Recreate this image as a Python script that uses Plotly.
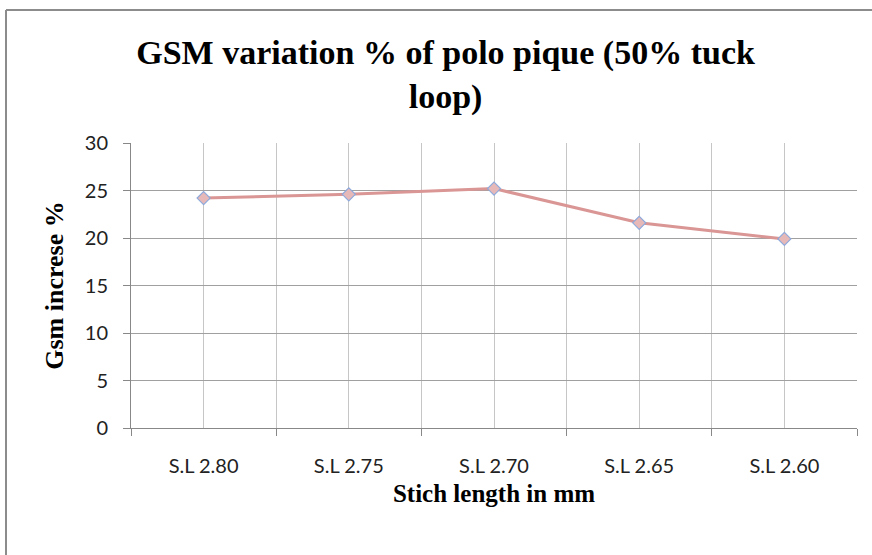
import plotly.graph_objects as go

categories = ["S.L 2.80", "S.L 2.75", "S.L 2.70", "S.L 2.65", "S.L 2.60"]
gsm_increase = [24.2, 24.6, 25.2, 21.6, 19.9]
y_ticks = [0, 5, 10, 15, 20, 25, 30]

x_idx = list(range(len(categories)))

fig = go.Figure()
fig.add_trace(go.Scatter(
    x=x_idx, y=gsm_increase, mode="lines+markers",
    line=dict(color="#D99694", width=3),
    marker=dict(symbol="diamond", size=10, color="#E6B9B8",
                line=dict(color="#8EA9DB", width=1.2)),
    showlegend=False, hoverinfo="skip",
))

serif = "Liberation Serif"
sans = "Lato"

fig.update_layout(
    width=872, height=555,
    margin=dict(l=131, r=15, t=143, b=127),
    paper_bgcolor="white", plot_bgcolor="white",
    title=dict(text="<b>GSM variation % of polo pique (50% tuck<br>loop)</b>",
               x=0.511, xanchor="center", y=1 - 64 / 555, yanchor="top",
               font=dict(family=serif, size=34, color="black")),
    xaxis=dict(
        range=[-0.5, len(categories) - 0.5],
        tickmode="array", tickvals=x_idx, ticktext=categories,
        ticks="", showgrid=True, gridcolor="#C6C6C6", gridwidth=1,
        minor=dict(tickmode="array",
                   tickvals=[i - 0.5 for i in range(len(categories) + 1)],
                   ticks="outside", ticklen=7, tickcolor="#888888",
                   showgrid=True, gridcolor="#C6C6C6", gridwidth=1),
        showline=True, linecolor="#888888", linewidth=1,
        tickfont=dict(family=sans, size=20, color="#222222"),
        ticklabelstandoff=20,
        title=dict(text="<b>Stich length in mm</b>",
                   font=dict(family=serif, size=25, color="black"), standoff=8),
        zeroline=False,
    ),
    yaxis=dict(
        range=[0, 30], tickmode="array", tickvals=y_ticks,
        ticks="outside", ticklen=7, tickcolor="#888888",
        showgrid=True, gridcolor="#A0A0A0", gridwidth=1,
        showline=True, linecolor="#888888", linewidth=1,
        tickfont=dict(family=sans, size=20, color="#222222"),
        ticklabelstandoff=11,
        title=dict(text="<b>Gsm increse %</b>",
                   font=dict(family=serif, size=26, color="black"), standoff=13),
        zeroline=False,
    ),
)

# outer chart border (only top and left visible in the reference)
bx = (6 - 131) / 726
by = (428 - 10) / 285
fig.add_shape(type="line", xref="paper", yref="paper",
              x0=bx, x1=1.05, y0=by, y1=by,
              line=dict(color="#8C8C8C", width=2))
fig.add_shape(type="line", xref="paper", yref="paper",
              x0=bx, x1=bx, y0=by, y1=-0.5,
              line=dict(color="#8C8C8C", width=2))

fig.write_html("out.html", config={"displayModeBar": False},
               post_script="document.body.style.margin='0';document.body.style.padding='0';")
